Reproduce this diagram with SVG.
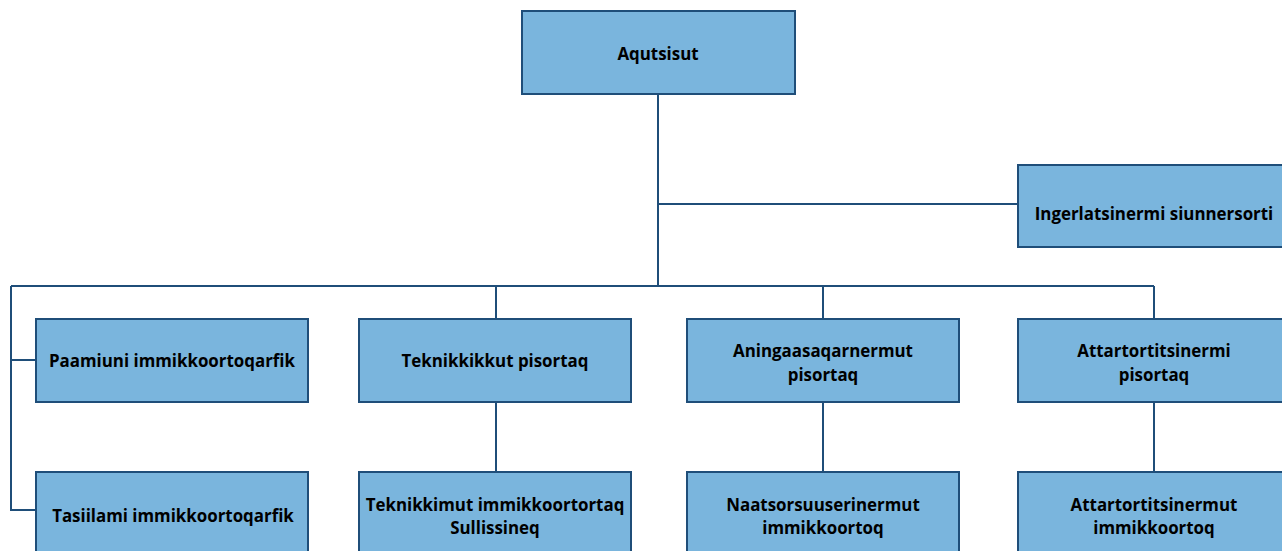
<svg xmlns="http://www.w3.org/2000/svg" width="1282" height="551" viewBox="0 0 1282 551">
<style>
.box{fill:#7AB5DD;stroke:#1F4E79;stroke-width:2}
.lbl{font-family:"Open Sans","Noto Sans","Liberation Sans",sans-serif;font-weight:bold;font-size:16.9px;fill:#000;text-anchor:middle;dominant-baseline:central}
.con{fill:none;stroke:#1F4E79;stroke-width:2}
</style>
<rect width="1282" height="551" fill="#fff"/>
<g id="connectors">
<path class="con" d="M658 94V286M658 204H1018M11 286H1154M496 286V319M823 286V319M1154 286V319M11 286V510H36M11 360H36M496 402V472M823 402V472M1154 402V472"/>
</g>
<g id="n-aqutsisut"><rect class="box" x="522" y="11" width="273" height="83"/><text class="lbl" x="658" y="53">Aqutsisut</text></g>
<g id="n-ingerlatsinermi"><rect class="box" x="1018" y="165" width="272" height="82"/><text class="lbl" x="1154" y="213">Ingerlatsinermi siunnersorti</text></g>
<g id="n-paamiuni"><rect class="box" x="36" y="319" width="272" height="83"/><text class="lbl" x="172" y="360">Paamiuni immikkoortoqarfik</text></g>
<g id="n-teknikkikkut"><rect class="box" x="359" y="319" width="272" height="83"/><text class="lbl" x="495" y="360">Teknikkikkut pisortaq</text></g>
<g id="n-aningaasaqarnermut"><rect class="box" x="687" y="319" width="272" height="83"/><text class="lbl" x="823" y="350">Aningaasaqarnermut</text><text class="lbl" x="823" y="374">pisortaq</text></g>
<g id="n-attartortitsinermi"><rect class="box" x="1018" y="319" width="272" height="83"/><text class="lbl" x="1154" y="350">Attartortitsinermi</text><text class="lbl" x="1154" y="374">pisortaq</text></g>
<g id="n-tasiilami"><rect class="box" x="36" y="472" width="272" height="83"/><text class="lbl" x="173" y="515">Tasiilami immikkoortoqarfik</text></g>
<g id="n-teknikkimut"><rect class="box" x="359" y="472" width="272" height="83"/><text class="lbl" x="495" y="504">Teknikkimut immikkoortortaq</text><text class="lbl" x="495" y="527">Sullissineq</text></g>
<g id="n-naatsorsuuserinermut"><rect class="box" x="687" y="472" width="272" height="83"/><text class="lbl" x="823" y="504">Naatsorsuuserinermut</text><text class="lbl" x="823" y="527">immikkoortoq</text></g>
<g id="n-attartortitsinermut"><rect class="box" x="1018" y="472" width="272" height="83"/><text class="lbl" x="1154" y="504">Attartortitsinermut</text><text class="lbl" x="1154" y="527">immikkoortoq</text></g>
</svg>
